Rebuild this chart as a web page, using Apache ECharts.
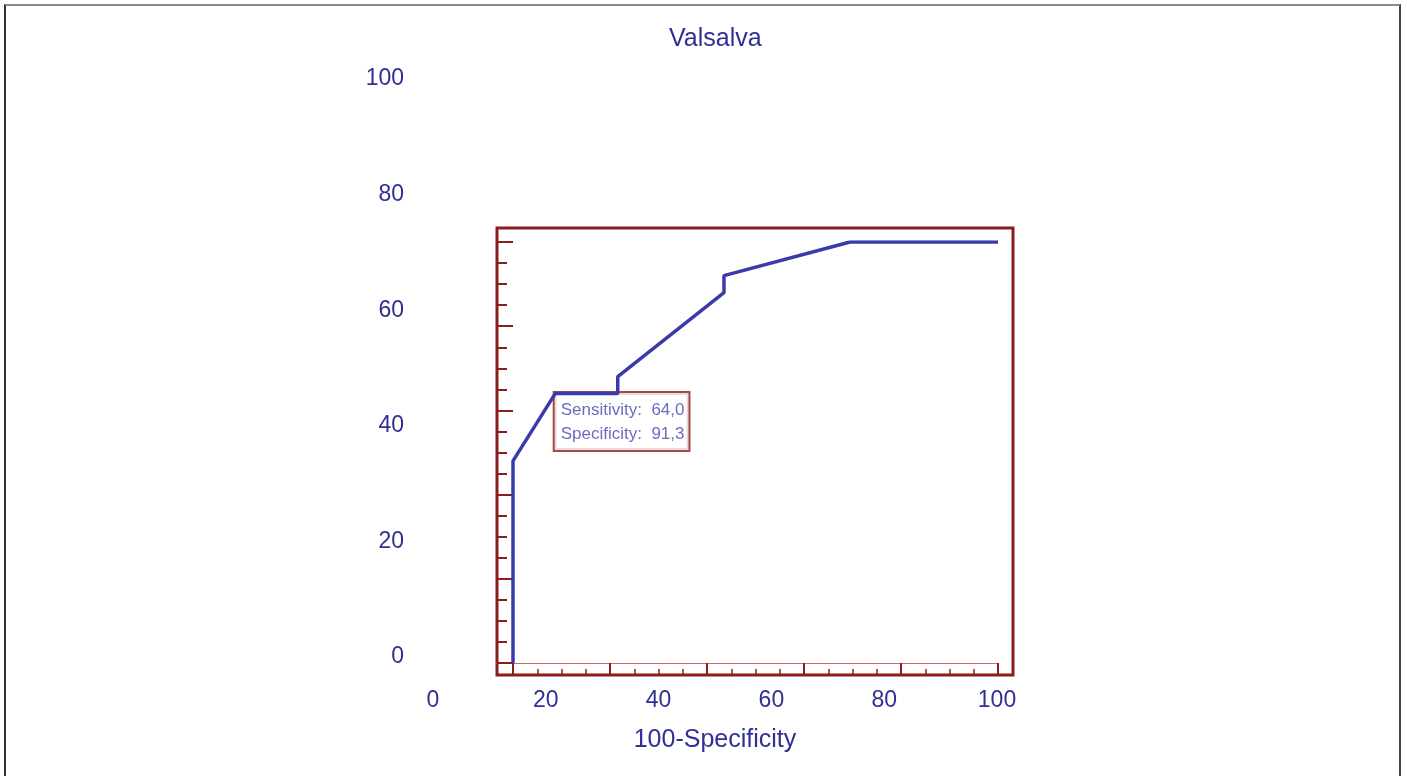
<!DOCTYPE html>
<html>
<head>
<meta charset="utf-8">
<title>Valsalva ROC</title>
<script src="https://cdn.jsdelivr.net/npm/echarts@6/dist/echarts.min.js"></script>
<style>
    html, body { margin: 0; padding: 0; background: #fff; }
    #chart { position: absolute; left: 0; top: 0; width: 1407px; height: 776px; }
    #frame { position: absolute; left: 4px; top: 4px; width: 1393px; height: 780px;
             border-top: 2px solid #8a8a8a; border-left: 2px solid #333; border-right: 2px solid #444;
             pointer-events: none; }
</style>
</head>
<body>
<div id="chart"></div>
<div id="frame"></div>
<script>
// ROC curve points (100-Specificity, Sensitivity)
var fpr = [0, 0, 8.7, 21.6, 21.6, 43.5, 43.5, 69.5, 100];
var tpr = [0, 48, 64, 64, 68, 88, 92, 100, 100];
// cut-off point shown in the box
var cutX = 8.7;
var cutY = 64;
var cutText = ['Sensitivity:  64,0', 'Specificity:  91,3'];
// tick labels printed around the plot
var xTicks = [0, 20, 40, 60, 80, 100];
var yTicks = [0, 20, 40, 60, 80, 100];

var blue = '#3a3aac';
var textBlue = '#2f2f96';
var red = '#8c1c1c';
var font = 'Liberation Sans, Arial, sans-serif';

var chart = echarts.init(document.getElementById('chart'));

var curve = [];
for (var i = 0; i < fpr.length; i++) {
    curve.push([fpr[i], tpr[i]]);
}

var option = {
    animation: false,
    title: {
        text: 'Valsalva',
        left: 664,
        top: 22,
        textStyle: { color: textBlue, fontSize: 25, fontWeight: 'normal', fontFamily: font }
    },
    grid: [
        // inner data area
        { left: 513, top: 242, width: 485, height: 421 },
        // red frame
        { left: 497, top: 228, width: 516, height: 447, show: true, borderColor: red, borderWidth: 3, backgroundColor: 'transparent' },
        // where the tick labels sit
        { left: 433, top: 79, width: 564, height: 578 },
        // thin base line inside the frame
        { left: 497, top: 242, width: 501, height: 421 }
    ],
    xAxis: [
        {
            gridIndex: 0, type: 'value', min: 0, max: 100, interval: 20, offset: 12,
            axisLine: { show: false, onZero: false },
            axisTick: { show: true, inside: true, length: 12, lineStyle: { color: red, width: 2 } },
            minorTick: { show: true, splitNumber: 4, length: 6, lineStyle: { color: red, width: 1.5 } },
            axisLabel: { show: false },
            splitLine: { show: false }
        },
        {
            gridIndex: 3, type: 'value', min: 0, max: 100, position: 'bottom',
            axisLine: { show: true, onZero: false, lineStyle: { color: '#c46a6a', width: 1 } },
            axisTick: { show: false },
            axisLabel: { show: false },
            splitLine: { show: false }
        },
        {
            gridIndex: 1, type: 'value', min: 0, max: 100, show: false
        },
        {
            gridIndex: 2, type: 'value', min: 0, max: 100, interval: 20,
            name: '100-Specificity', nameLocation: 'middle', nameGap: 71,
            nameTextStyle: { color: textBlue, fontSize: 25, fontFamily: font },
            axisLine: { show: false, onZero: false },
            axisTick: { show: false },
            splitLine: { show: false },
            axisLabel: {
                color: textBlue, fontSize: 23, margin: 32, fontFamily: font,
                formatter: function (v) { return xTicks.indexOf(v) >= 0 ? String(v) : ''; }
            }
        }
    ],
    yAxis: [
        {
            gridIndex: 0, type: 'value', min: 0, max: 100, interval: 20, offset: 16,
            axisLine: { show: false, onZero: false },
            axisTick: { show: true, inside: true, length: 16, lineStyle: { color: red, width: 2 } },
            minorTick: { show: true, splitNumber: 4, length: 10, lineStyle: { color: red, width: 2 } },
            axisLabel: { show: false },
            splitLine: { show: false }
        },
        {
            gridIndex: 1, type: 'value', min: 0, max: 100, show: false
        },
        {
            gridIndex: 2, type: 'value', min: 0, max: 100, interval: 20,
            axisLine: { show: false, onZero: false },
            axisTick: { show: false },
            splitLine: { show: false },
            axisLabel: {
                color: textBlue, fontSize: 23, margin: 29, fontFamily: font,
                formatter: function (v) { return yTicks.indexOf(v) >= 0 ? String(v) : ''; }
            }
        },
        {
            gridIndex: 3, type: 'value', min: 0, max: 100, show: false
        }
    ],
    series: [
        {
            type: 'line',
            xAxisIndex: 0,
            yAxisIndex: 0,
            data: curve,
            showSymbol: false,
            lineStyle: { color: blue, width: 3.5 },
            z: 3
        },
        {
            type: 'scatter',
            xAxisIndex: 0,
            yAxisIndex: 0,
            data: [[cutX, cutY]],
            symbolSize: 1,
            itemStyle: { color: 'transparent' },
            label: {
                show: true,
                position: [0, 0],
                align: 'left',
                verticalAlign: 'top',
                formatter: cutText.join('\n'),
                color: '#4646b0',
                fontSize: 17,
                lineHeight: 24,
                fontFamily: font,
                backgroundColor: '#fff',
                borderColor: red,
                borderWidth: 2,
                padding: [5, 4, 4, 6]
            },
            z: 2
        }
    ]
};

chart.setOption(option);
</script>
</body>
</html>
